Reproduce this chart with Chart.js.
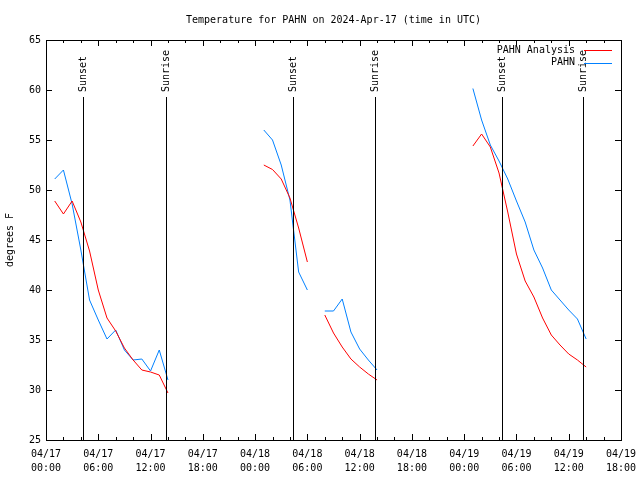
<!DOCTYPE html>
<html>
<head>
<meta charset="utf-8">
<script src="https://cdn.jsdelivr.net/npm/chart.js@4"></script>
<style>
html,body{margin:0;padding:0;background:#fff;}
#wrap{width:640px;height:480px;}
</style>
</head>
<body>
<div id="wrap"><canvas id="c" width="640" height="480"></canvas></div>
<script>
// Hours since 04/17 00:00 UTC (null-valued hours separate the segments)
const hours = [1,2,3,4,5,6,7,8,9,10,11,12,13,14, 20,
  25,26,27,28,29,30, 31,
  32,33,34,35,36,37,38, 44,
  49,50,51,52,53,54,55,56,57,58,59,60,61,62];
const analysisTemps = [48.9,47.6,48.9,46.8,43.9,40.0,37.2,35.9,34.2,33.0,32.0,31.8,31.5,29.7, null,
  52.5,52.05,51.1,49.2,46.2,42.8, null,
  37.5,35.7,34.3,33.1,32.3,31.6,31.0, null,
  54.4,55.6,54.3,51.7,47.8,43.6,40.9,39.3,37.2,35.5,34.5,33.6,33.0,32.3];
const observedTemps = [51.1,52.0,48.6,44.0,39.0,37.0,35.1,36.0,34.0,33.0,33.1,31.9,34.0,31.0, null,
  56.0,55.0,52.5,49.0,41.8,40.0, null,
  37.9,37.9,39.1,35.8,34.1,33.0,32.0, null,
  60.15,57.0,54.5,52.9,51.1,48.9,46.8,44.0,42.2,40.0,39.0,38.0,37.1,35.1];
const seriesNames = ['PAHN Analysis', 'PAHN'];
const seriesColors = ['#ff0000', '#0080ff'];
const tickDates = ['04/17','04/17','04/17','04/17','04/18','04/18','04/18','04/18','04/19','04/19','04/19','04/19'];
const tickTimes = ['00:00','06:00','12:00','18:00','00:00','06:00','12:00','18:00','00:00','06:00','12:00','18:00'];
const sunLabels = ['Sunset','Sunrise','Sunset','Sunrise','Sunset','Sunrise'];
const sunHours = [4.2, 13.78, 28.32, 37.8, 52.38, 61.68];
const titleText = 'Temperature for PAHN on 2024-Apr-17 (time in UTC)';
const yAxisTitle = 'degrees F';

const FONT = '"DejaVu Sans Mono", "Liberation Mono", monospace';

const mkData = (vals) => hours.map((h, i) => ({x: h, y: vals[i]}));

const decor = {
  id: 'decor',
  afterDraw(chart) {
    const ctx = chart.ctx;
    const a = chart.chartArea;
    const xs = chart.scales.x, ys = chart.scales.y;
    ctx.save();
    ctx.strokeStyle = '#000';
    ctx.lineWidth = 1;
    // tick marks (inward, mirrored)
    ctx.beginPath();
    for (let h = 0; h <= 66; h += 2) {
      const px = Math.round(xs.getPixelForValue(h)) + 0.5;
      const len = (h % 6 === 0) ? 6 : 3;
      ctx.moveTo(px, a.bottom); ctx.lineTo(px, a.bottom - len);
      ctx.moveTo(px, a.top); ctx.lineTo(px, a.top + len);
    }
    for (let v = 25; v <= 65; v += 5) {
      const py = Math.round(ys.getPixelForValue(v)) + 0.5;
      ctx.moveTo(a.left, py); ctx.lineTo(a.left + 6, py);
      ctx.moveTo(a.right, py); ctx.lineTo(a.right - 6, py);
    }
    ctx.stroke();
    // frame
    ctx.strokeRect(Math.round(a.left) + 0.5, Math.round(a.top) + 0.5,
      Math.round(a.right - a.left), Math.round(a.bottom - a.top));
    // sunrise/sunset lines
    ctx.font = '10px ' + FONT;
    ctx.fillStyle = '#000';
    sunHours.forEach((h, i) => {
      const px = Math.round(xs.getPixelForValue(h)) + 0.5;
      ctx.beginPath();
      ctx.moveTo(px, 97); ctx.lineTo(px, a.bottom);
      ctx.stroke();
      ctx.save();
      ctx.translate(px, 92);
      ctx.rotate(-Math.PI / 2);
      ctx.textAlign = 'left';
      ctx.textBaseline = 'middle';
      ctx.fillText(sunLabels[i], 0, 0);
      ctx.restore();
    });
    // title
    ctx.textAlign = 'center';
    ctx.textBaseline = 'middle';
    ctx.fillText(titleText, (a.left + a.right) / 2, 20);
    // y axis title
    ctx.save();
    ctx.translate(10, 240);
    ctx.rotate(-Math.PI / 2);
    ctx.fillText(yAxisTitle, 0, 0);
    ctx.restore();
    // legend
    const ds = chart.data.datasets;
    ds.forEach((d, i) => {
      const y = 50 + i * 12.5;
      ctx.textAlign = 'right';
      ctx.fillStyle = '#000';
      ctx.fillText(d.label, 575, y);
      ctx.strokeStyle = d.borderColor;
      ctx.beginPath();
      ctx.moveTo(584, Math.round(y) + 0.5); ctx.lineTo(612, Math.round(y) + 0.5);
      ctx.stroke();
    });
    ctx.restore();
  }
};

new Chart(document.getElementById('c'), {
  type: 'line',
  data: {
    datasets: [
      {label: seriesNames[0], data: mkData(analysisTemps), borderColor: seriesColors[0], borderWidth: 1, pointRadius: 0, spanGaps: false, tension: 0, fill: false},
      {label: seriesNames[1], data: mkData(observedTemps), borderColor: seriesColors[1], borderWidth: 1, pointRadius: 0, spanGaps: false, tension: 0, fill: false}
    ]
  },
  options: {
    responsive: false,
    animation: false,
    devicePixelRatio: 1,
    layout: {padding: {left: 0, right: 19, top: 40, bottom: 0}},
    plugins: {legend: {display: false}, title: {display: false}, tooltip: {enabled: false}},
    scales: {
      x: {
        type: 'linear', min: 0, max: 66,
        afterFit: (s) => { s.height = 40; s.paddingLeft = 0; s.paddingRight = 0; },
        afterBuildTicks: (s) => { s.ticks = tickDates.map((d, i) => ({value: i * 6})); },
        ticks: {
          autoSkip: false, maxRotation: 0, minRotation: 0, padding: 7,
          color: '#000', font: {family: FONT, size: 10, lineHeight: 1.4},
          callback: (v, i) => [tickDates[i], tickTimes[i]]
        },
        grid: {display: false, drawTicks: false},
        border: {display: false}
      },
      y: {
        min: 25, max: 65,
        afterFit: (s) => { s.width = 46; s.paddingTop = 0; s.paddingBottom = 0; },
        ticks: {stepSize: 5, padding: 5, color: '#000', font: {family: FONT, size: 10}},
        grid: {display: false, drawTicks: false},
        border: {display: false}
      }
    }
  },
  plugins: [decor]
});
</script>
</body>
</html>
